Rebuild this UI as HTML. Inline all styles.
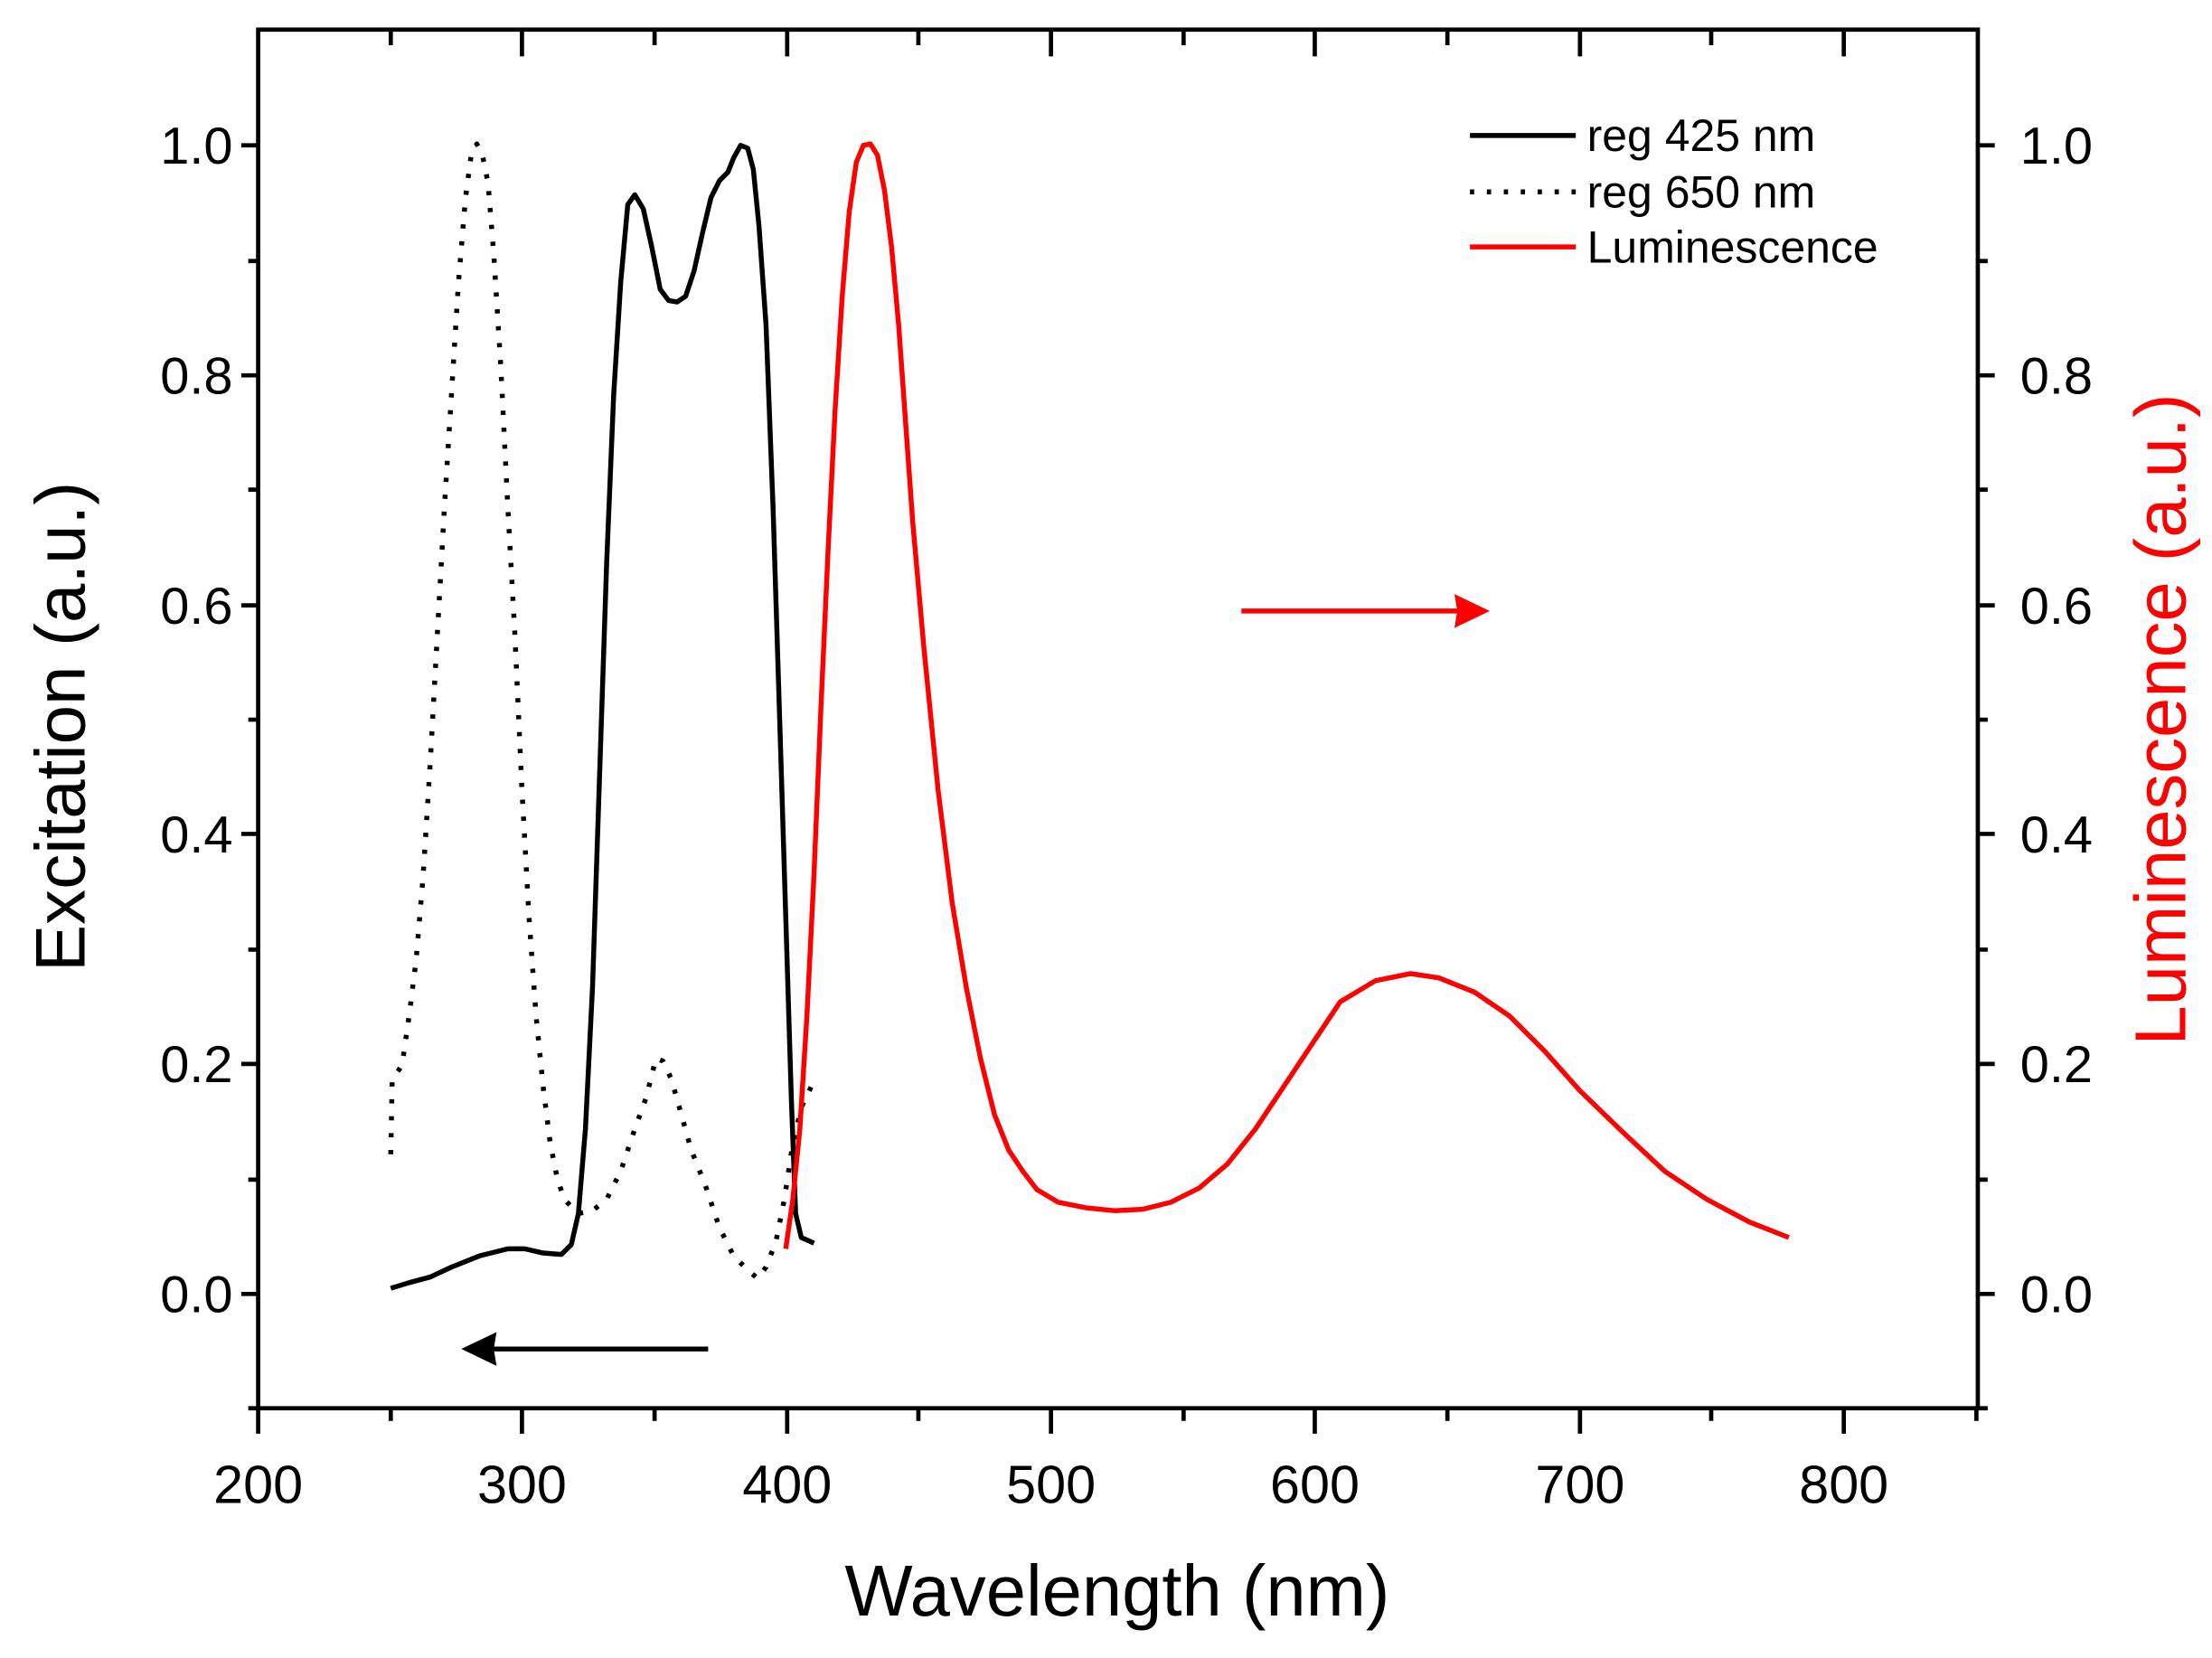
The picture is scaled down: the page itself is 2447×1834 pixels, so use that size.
<!DOCTYPE html>
<html><head><meta charset="utf-8"><style>html,body{margin:0;padding:0;background:#fff}svg{display:block}</style></head><body>
<svg width="2447" height="1834" viewBox="0 0 1568 1175" preserveAspectRatio="none" xmlns="http://www.w3.org/2000/svg" font-family="'Liberation Sans', sans-serif">
<rect width="1568" height="1175" fill="#fff"/>
<g stroke="#000" stroke-width="3" fill="none">
<rect x="183" y="21" width="1219" height="977"/>
<path d="M183 998v18M370 998v18M558 998v18M745 998v18M932 998v18M1120 998v18M1307 998v18M277 998v9M464 998v9M651 998v9M839 998v9M1026 998v9M1213 998v9M1401 998v9"/>
<path d="M370 21v19M558 21v19M745 21v19M932 21v19M1120 21v19M1307 21v19M277 21v11M464 21v11M651 21v11M839 21v11M1026 21v11M1213 21v11"/>
<path d="M183 917h-12M183 754h-12M183 591h-12M183 429h-12M183 266h-12M183 103h-12M183 836h-7M183 673h-7M183 510h-7M183 347h-7M183 185h-7M183 998h-7"/>
<path d="M1402 917h12M1402 754h12M1402 591h12M1402 429h12M1402 266h12M1402 103h12M1402 836h7M1402 673h7M1402 510h7M1402 347h7M1402 185h7M1402 998h7"/>
</g>
<g font-size="37" fill="#000" text-anchor="end">
<text x="165" y="930">0.0</text><text x="165" y="767">0.2</text><text x="165" y="604">0.4</text><text x="165" y="442">0.6</text><text x="165" y="279">0.8</text><text x="165" y="116">1.0</text>
</g>
<g font-size="37" fill="#000">
<text x="1432" y="930">0.0</text><text x="1432" y="767">0.2</text><text x="1432" y="604">0.4</text><text x="1432" y="442">0.6</text><text x="1432" y="279">0.8</text><text x="1432" y="116">1.0</text>
</g>
<g font-size="38" fill="#000" text-anchor="middle">
<text x="183" y="1065">200</text><text x="370" y="1065">300</text><text x="558" y="1065">400</text><text x="745" y="1065">500</text><text x="932" y="1065">600</text><text x="1120" y="1065">700</text><text x="1307" y="1065">800</text>
</g>
<text x="792" y="1145" font-size="51" text-anchor="middle">Wavelength (nm)</text>
<text transform="translate(60,515) rotate(-90)" font-size="50" text-anchor="middle">Excitation (a.u.)</text>
<text transform="translate(1549,510) rotate(-90)" font-size="51" text-anchor="middle" fill="#f00">Luminescence (a.u.)</text>
<g stroke-width="3.5" fill="none" stroke-linejoin="round">
<polyline stroke="#000" points="277,913 290,909 305,905 320,898 340,890 360,885 372,885 385,888 398,889 405,882 410,860 415,800 420,700 425,550 430,400 435,280 440,200 445,145 450,138 456,148 462,175 468,205 474,213 480,214 486,210 492,192 498,165 504,140 510,128 516,122 520,112 525,103 530,105 534,120 538,160 543,230 548,360 553,520 557,650 561,780 564,860 568,877 577,881"/>
<polyline stroke="#000" stroke-dasharray="3,9" points="277,818 278,765 285,755 290,720 295,680 300,620 305,540 310,450 315,360 320,280 325,200 330,140 334,110 338,102 342,110 346,130 350,180 355,260 360,360 365,450 370,560 375,650 380,720 385,770 390,810 395,835 400,850 410,860 420,858 430,850 440,830 450,800 458,778 465,750 470,752 476,765 483,790 490,815 500,840 510,870 520,890 530,900 537,906 543,898 550,880 556,850 562,810 568,785 576,768"/>
<polyline stroke="#f00" points="557,885 562,850 567,800 572,720 577,620 582,500 587,390 592,290 597,210 602,150 607,115 612,103 617,102 622,110 627,135 632,175 637,230 642,300 647,370 655,460 665,560 675,640 685,700 695,750 705,790 715,815 725,830 735,843 750,852 770,856 790,858 810,857 830,852 850,842 870,825 890,800 910,770 930,740 950,710 975,695 1000,690 1020,693 1045,703 1070,720 1095,745 1120,773 1150,802 1180,830 1210,850 1240,866 1268,877"/>
<path stroke="#000" d="M1042 96h75"/>
<path stroke="#000" stroke-dasharray="3,9" d="M1042 136h75"/>
<path stroke="#f00" d="M1042 175h75"/>
<path stroke="#000" d="M502 956H345"/>
<path stroke="#f00" d="M880 433H1035"/>
</g>
<path d="M327 956L352 944L350 956L352 968Z" fill="#000"/>
<path d="M1056 433L1031 421L1033 433L1031 445Z" fill="#f00"/>
<g font-size="32" fill="#000">
<text x="1125" y="107">reg 425 nm</text><text x="1125" y="147">reg 650 nm</text><text x="1125" y="186">Luminescence</text>
</g>
</svg>
</body></html>
